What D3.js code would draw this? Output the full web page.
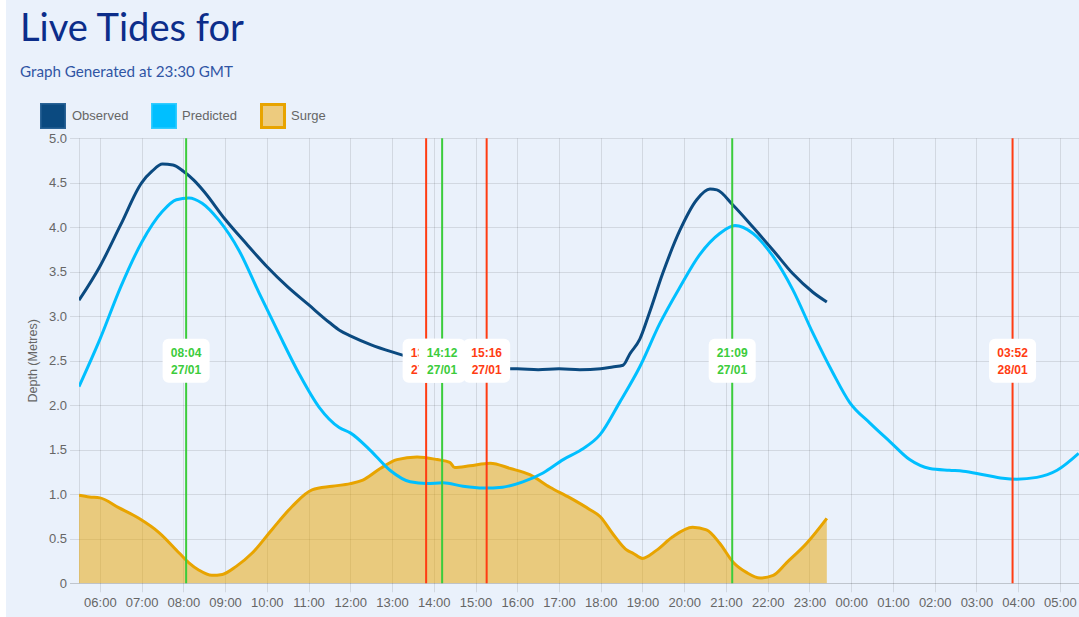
<!DOCTYPE html>
<html>
<head>
<meta charset="utf-8">
<script src="https://cdn.jsdelivr.net/npm/d3@7"></script>
<style>
  html, body { margin: 0; padding: 0; background: #ffffff; overflow: hidden; }
  svg { display: block; }
</style>
</head>
<body>
<svg id="chart" width="1079" height="617"></svg>
<script>
// ---------------- DATA ----------------
const titleText = "Live Tides for";
const subtitleText = "Graph Generated at 23:30 GMT";
const seriesNames = ["Observed", "Predicted", "Surge"];
const yTickValues = [0, 0.5, 1.0, 1.5, 2.0, 2.5, 3.0, 3.5, 4.0, 4.5, 5.0];

const observedTimes = ["05:30","06:00","06:30","07:00","07:15","07:30","07:45","08:00","08:15","08:30","09:00","09:30","10:00","10:30","11:00","11:30","11:45","12:00","12:30","13:00","13:30","14:00","14:30","15:00","15:30","16:00","16:30","17:00","17:30","18:00","18:17","18:32","18:42","18:56","19:10","19:29","19:54","20:18","20:37","20:47","21:10","21:39","22:08","22:36","23:05","23:25"];
const observedValues = [3.18,3.56,4.03,4.50,4.63,4.71,4.70,4.63,4.53,4.40,4.09,3.82,3.56,3.33,3.13,2.93,2.84,2.78,2.68,2.60,2.53,2.48,2.45,2.43,2.41,2.41,2.40,2.41,2.40,2.41,2.43,2.45,2.58,2.74,3.04,3.48,3.97,4.31,4.43,4.42,4.25,4.00,3.74,3.48,3.27,3.16];

const predictedTimes = ["05:30","06:00","06:30","07:00","07:30","07:50","08:08","08:27","08:51","09:20","09:49","10:17","10:46","11:15","11:44","12:00","12:28","12:57","13:26","13:50","14:13","14:42","15:11","15:39","16:08","16:37","17:06","17:32","17:59","18:27","18:56","19:25","19:54","20:22","20:51","21:13","21:39","22:08","22:36","23:05","23:34","23:58","00:27","00:56","01:24","01:53","02:21","02:41","03:10","03:38","03:58","04:27","04:56","05:27"];
const predictedValues = [2.21,2.74,3.33,3.83,4.18,4.31,4.33,4.27,4.08,3.74,3.26,2.81,2.36,1.98,1.75,1.69,1.50,1.27,1.14,1.12,1.13,1.09,1.07,1.08,1.14,1.24,1.39,1.50,1.67,2.03,2.43,2.92,3.33,3.69,3.93,4.02,3.93,3.67,3.30,2.81,2.36,2.03,1.80,1.59,1.39,1.29,1.27,1.26,1.22,1.18,1.17,1.19,1.27,1.46];

const surgeTimes = ["05:30","05:45","06:00","06:27","06:56","07:25","07:54","08:08","08:22","08:41","08:56","09:16","09:39","10:07","10:36","11:05","11:34","12:00","12:18","12:43","13:07","13:36","14:05","14:23","14:30","14:52","15:21","15:50","16:18","16:47","17:16","17:44","17:59","18:17","18:38","18:46","19:00","19:20","19:43","20:12","20:32","20:51","21:10","21:30","21:49","22:08","22:27","22:56","23:25"];
const surgeValues = [0.99,0.97,0.96,0.85,0.73,0.57,0.34,0.23,0.15,0.09,0.10,0.19,0.34,0.60,0.86,1.05,1.09,1.12,1.16,1.29,1.39,1.42,1.39,1.36,1.30,1.32,1.35,1.29,1.22,1.08,0.96,0.83,0.75,0.56,0.37,0.34,0.28,0.37,0.52,0.63,0.60,0.45,0.24,0.12,0.06,0.09,0.23,0.45,0.73];

const tideTimes = ["08:04","13:49","14:12","15:16","21:09","03:52"];
const tideDates = ["27/01","27/01","27/01","27/01","27/01","28/01"];
const tideKinds = ["high","low","high","low","high","low"];

const xStart = "27/01 05:30";
const xEnd = "28/01 05:30";

// ---------------- HELPERS ----------------
const YEAR = 2024;
function parseDT(dateStr, timeStr) {
  const [d, mo] = dateStr.split("/").map(Number);
  const [h, m] = timeStr.split(":").map(Number);
  return new Date(YEAR, mo - 1, d, h, m);
}
function parseSeq(times) {
  let day = 27, prev = -1;
  return times.map(t => {
    const [h, m] = t.split(":").map(Number);
    const mins = h * 60 + m;
    if (mins < prev) day++;
    prev = mins;
    return new Date(YEAR, 0, day, h, m);
  });
}
function zip(times, values) {
  const ds = parseSeq(times);
  return ds.map((d, i) => ({ t: d, v: values[i] }));
}

const observed = zip(observedTimes, observedValues);
const predicted = zip(predictedTimes, predictedValues);
const surge = zip(surgeTimes, surgeValues);
const tides = tideTimes.map((t, i) => ({ t: parseDT(tideDates[i], t), label: t, date: tideDates[i], kind: tideKinds[i] }));

// ---------------- STYLE ----------------
const C = {
  bg: "#eaf1fb",
  observed: "#0b4a80",
  predicted: "#00bfff",
  surgeLine: "#e8a400",
  surgeFill: "rgba(232,164,0,0.5)",
  grid: "rgba(0,0,0,0.1)",
  text: "#666666",
  green: "#3ccc3c",
  red: "#ff3c12",
  title: "#0c2d8a",
  subtitle: "#3055a4"
};
const FONT = "Arial, 'Liberation Sans', sans-serif";

const svg = d3.select("#chart");
const W = 1079, H = 617;
const plot = { left: 79, top: 138.3, bottom: 583.3 };

svg.append("rect").attr("x", 6).attr("y", 0).attr("width", W - 6).attr("height", H).attr("fill", C.bg);

// Title
const title = svg.append("text")
  .attr("x", 20).attr("y", 41)
  .attr("font-family", "Lato, 'Open Sans', sans-serif")
  .attr("font-size", 38)
  .attr("fill", C.title)
  .text(titleText);
{
  const w = title.node().getComputedTextLength();
  title.attr("font-size", 38 * 224 / w);
}
const sub = svg.append("text")
  .attr("x", 20).attr("y", 77)
  .attr("font-family", "Lato, 'Open Sans', sans-serif")
  .attr("font-size", 14)
  .attr("fill", C.subtitle)
  .text(subtitleText);
{
  const w = sub.node().getComputedTextLength();
  sub.attr("font-size", 14 * 213 / w);
}

// Scales
const hourPx = (1060 - 100) / 23;
const x = d3.scaleTime()
  .domain([d3.timeParse("%d/%m %H:%M")(xStart), d3.timeParse("%d/%m %H:%M")(xEnd)].map(d => { d.setFullYear(YEAR); return d; }))
  .range([plot.left, plot.left + 24 * hourPx]);
const y = d3.scaleLinear().domain([0, 5]).range([plot.bottom, plot.top]);

// Legend
const legendItems = [
  { name: seriesNames[0], x: 40, fill: C.observed, stroke: "#2a6396", sw: 1.5, tx: 72 },
  { name: seriesNames[1], x: 151, fill: C.predicted, stroke: "#33ccff", sw: 1.5, tx: 182 },
  { name: seriesNames[2], x: 260, fill: "#edcb7e", stroke: C.surgeLine, sw: 3, tx: 291 }
];
const lg = svg.append("g");
legendItems.forEach(it => {
  lg.append("rect").attr("x", it.x + it.sw / 2).attr("y", 103 + it.sw / 2)
    .attr("width", 26 - it.sw).attr("height", 26 - it.sw)
    .attr("fill", it.fill).attr("stroke", it.stroke).attr("stroke-width", it.sw);
  lg.append("text").attr("x", it.tx).attr("y", 115).attr("dy", "0.35em")
    .attr("font-family", FONT).attr("font-size", 13)
    .attr("fill", C.text).text(it.name);
});

// Grid: horizontal
const gGrid = svg.append("g");
yTickValues.forEach(v => {
  gGrid.append("line").attr("x1", plot.left - 9).attr("x2", W)
    .attr("y1", Math.round(y(v)) + 0.5).attr("y2", Math.round(y(v)) + 0.5)
    .attr("stroke", v === 0 ? "rgba(0,0,0,0.18)" : C.grid).attr("stroke-width", 1);
});
// Grid: vertical
const hourTicks = x.ticks(d3.timeHour.every(1)).filter(d => x(d) > plot.left + 2);
gGrid.append("line").attr("x1", plot.left + 0.5).attr("x2", plot.left + 0.5)
  .attr("y1", plot.top).attr("y2", plot.bottom).attr("stroke", C.grid);
hourTicks.forEach(d => {
  const px = Math.round(x(d)) + 0.5;
  gGrid.append("line").attr("x1", px).attr("x2", px)
    .attr("y1", plot.top).attr("y2", plot.bottom + 9)
    .attr("stroke", C.grid).attr("stroke-width", 1);
});

// Axes labels via d3 axes
const yAxis = d3.axisLeft(y).tickValues(yTickValues)
  .tickFormat(v => v === 0 ? "0" : d3.format(".1f")(v)).tickSize(0).tickPadding(0);
const yG = svg.append("g").attr("transform", `translate(${plot.left - 12},0)`).call(yAxis);
yG.select(".domain").remove();
yG.selectAll("text").attr("font-family", FONT)
  .attr("font-size", 13).attr("fill", C.text);

const xAxis = d3.axisBottom(x).tickValues(hourTicks).tickFormat(d3.timeFormat("%H:%M")).tickSize(0).tickPadding(0);
const xG = svg.append("g").attr("transform", `translate(0,${plot.bottom + 14})`).call(xAxis);
xG.select(".domain").remove();
xG.selectAll("text").attr("font-family", FONT)
  .attr("font-size", 13).attr("fill", C.text);

svg.append("text")
  .attr("transform", `translate(37,${(plot.top + plot.bottom) / 2}) rotate(-90)`)
  .attr("text-anchor", "middle")
  .attr("font-family", FONT)
  .attr("font-size", 12.5).attr("fill", C.text)
  .text("Depth (Metres)");

// Clip
svg.append("defs").append("clipPath").attr("id", "clip")
  .append("rect").attr("x", plot.left).attr("y", plot.top - 5).attr("width", W - plot.left).attr("height", plot.bottom - plot.top + 5);
const gData = svg.append("g").attr("clip-path", "url(#clip)");

const curve = d3.curveMonotoneX;
const area = d3.area().x(d => x(d.t)).y0(y(0)).y1(d => y(d.v)).curve(curve);
const line = d3.line().x(d => x(d.t)).y(d => y(d.v)).curve(curve);

gData.append("path").datum(surge).attr("d", area).attr("fill", C.surgeFill);
gData.append("path").datum(surge).attr("d", line).attr("fill", "none")
  .attr("stroke", C.surgeLine).attr("stroke-width", 3).attr("stroke-linejoin", "round");
gData.append("path").datum(predicted).attr("d", line).attr("fill", "none")
  .attr("stroke", C.predicted).attr("stroke-width", 3).attr("stroke-linejoin", "round");
gData.append("path").datum(observed).attr("d", line).attr("fill", "none")
  .attr("stroke", C.observed).attr("stroke-width", 3).attr("stroke-linejoin", "round");

// Tide lines
const gT = svg.append("g");
tides.forEach(td => {
  const px = x(td.t);
  gT.append("line").attr("x1", px).attr("x2", px).attr("y1", plot.top).attr("y2", plot.bottom)
    .attr("stroke", td.kind === "high" ? C.green : C.red).attr("stroke-width", 2);
});
const cy = (plot.top + plot.bottom) / 2;
tides.forEach(td => {
  const px = x(td.t);
  const col = td.kind === "high" ? C.green : C.red;
  const g = gT.append("g");
  g.append("rect").attr("x", px - 23.5).attr("y", cy - 22).attr("width", 47).attr("height", 44)
    .attr("rx", 6).attr("fill", "#ffffff");
  g.append("text").attr("x", px).attr("y", cy - 8).attr("dy", "0.35em").attr("text-anchor", "middle")
    .attr("font-family", FONT).attr("font-size", 12).attr("font-weight", "bold")
    .attr("fill", col).text(td.label);
  g.append("text").attr("x", px).attr("y", cy + 9).attr("dy", "0.35em").attr("text-anchor", "middle")
    .attr("font-family", FONT).attr("font-size", 12).attr("font-weight", "bold")
    .attr("fill", col).text(td.date);
});
</script>
</body>
</html>
